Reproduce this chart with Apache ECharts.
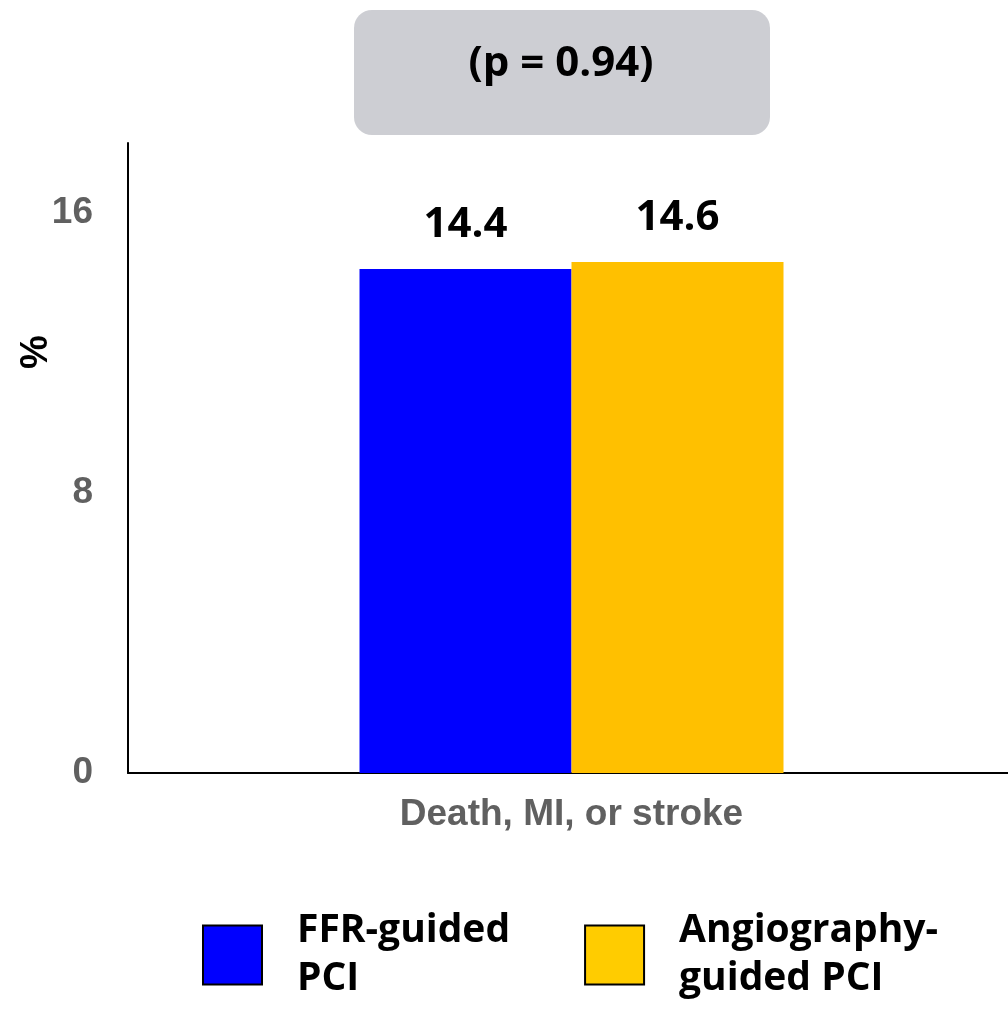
<!DOCTYPE html>
<html>
<head>
<meta charset="utf-8">
<script src="https://cdn.jsdelivr.net/npm/echarts@6/dist/echarts.min.js"></script>
<style>
html,body{margin:0;padding:0;background:#fff;}
#chart{width:1008px;height:1013px;}
</style>
</head>
<body>
<div id="chart"></div>
<script>
const categories = ['Death, MI, or stroke'];
const seriesNames = ['FFR-guided\nPCI', 'Angiography-\nguided PCI'];
const ffrValues = [14.4];
const angioValues = [14.6];
const yTicks = [0, 8, 16];
const pText = '(p = 0.94)';

const chart = echarts.init(document.getElementById('chart'));
const calibriLike = '"Open Sans", "Noto Sans", sans-serif';

const option = {
  animation: false,
  backgroundColor: '#ffffff',
  grid: { left: 128, width: 887, top: 143, bottom: 240, containLabel: false, outerBoundsMode: 'none' },
  graphic: [
    {
      type: 'group',
      children: [
        { type: 'rect', shape: { x: 354, y: 10, width: 416, height: 125, r: 18 },
          style: { fill: '#CDCED3' } },
        { type: 'text', x: 561, y: 64,
          style: { text: pText, font: 'bold 42px "Open Sans", sans-serif', fill: '#000',
                   textAlign: 'center', textVerticalAlign: 'middle' } }
      ]
    },
    {
      type: 'text', x: 37, y: 352, rotation: Math.PI / 2,
      style: { text: '%', font: 'bold 38px "Liberation Sans", Arial, sans-serif', fill: '#000',
               textAlign: 'center', textVerticalAlign: 'middle' }
    }
  ],
  legend: {
    left: 202,
    top: 907,
    padding: 0,
    itemWidth: 59,
    itemHeight: 59,
    itemGap: 74,
    icon: 'rect',
    selectedMode: false,
    textStyle: {
      fontFamily: calibriLike, fontWeight: 'bold', fontSize: 39, color: '#000',
      lineHeight: 48, padding: [0, 0, 0, 30]
    },
    data: [
      { name: seriesNames[0], itemStyle: { color: '#0000FF', borderColor: '#000', borderWidth: 2 } },
      { name: seriesNames[1], itemStyle: { color: '#FFCC00', borderColor: '#000', borderWidth: 2 } }
    ]
  },
  xAxis: {
    type: 'category',
    data: categories,
    axisLine: { show: true, lineStyle: { color: '#000', width: 2 } },
    axisTick: { show: false },
    axisLabel: {
      margin: 23,
      color: '#606060', fontFamily: '"Liberation Sans", Arial, sans-serif',
      fontWeight: 'bold', fontSize: 37
    }
  },
  yAxis: {
    type: 'value',
    min: 0, max: 18, interval: 8,
    axisLine: { show: true, lineStyle: { color: '#000', width: 2 } },
    axisTick: { show: false },
    splitLine: { show: false },
    axisLabel: {
      margin: 35, showMaxLabel: false,
      color: '#606060', fontFamily: '"Liberation Sans", Arial, sans-serif',
      fontWeight: 'bold', fontSize: 37,
      formatter: v => (yTicks.indexOf(v) >= 0 ? String(v) : '')
    }
  },
  series: [
    {
      name: seriesNames[0], type: 'bar', data: ffrValues,
      barWidth: 212, barGap: '0%',
      itemStyle: { color: '#0000FF' },
      label: { show: true, position: 'top', distance: 23,
               fontFamily: calibriLike, fontWeight: 'bold', fontSize: 42, color: '#000',
               formatter: p => p.value.toFixed(1) }
    },
    {
      name: seriesNames[1], type: 'bar', data: angioValues,
      barWidth: 212, barGap: '0%',
      itemStyle: { color: '#FFC000' },
      label: { show: true, position: 'top', distance: 23,
               fontFamily: calibriLike, fontWeight: 'bold', fontSize: 42, color: '#000',
               formatter: p => p.value.toFixed(1) }
    }
  ]
};
chart.setOption(option);
</script>
</body>
</html>
